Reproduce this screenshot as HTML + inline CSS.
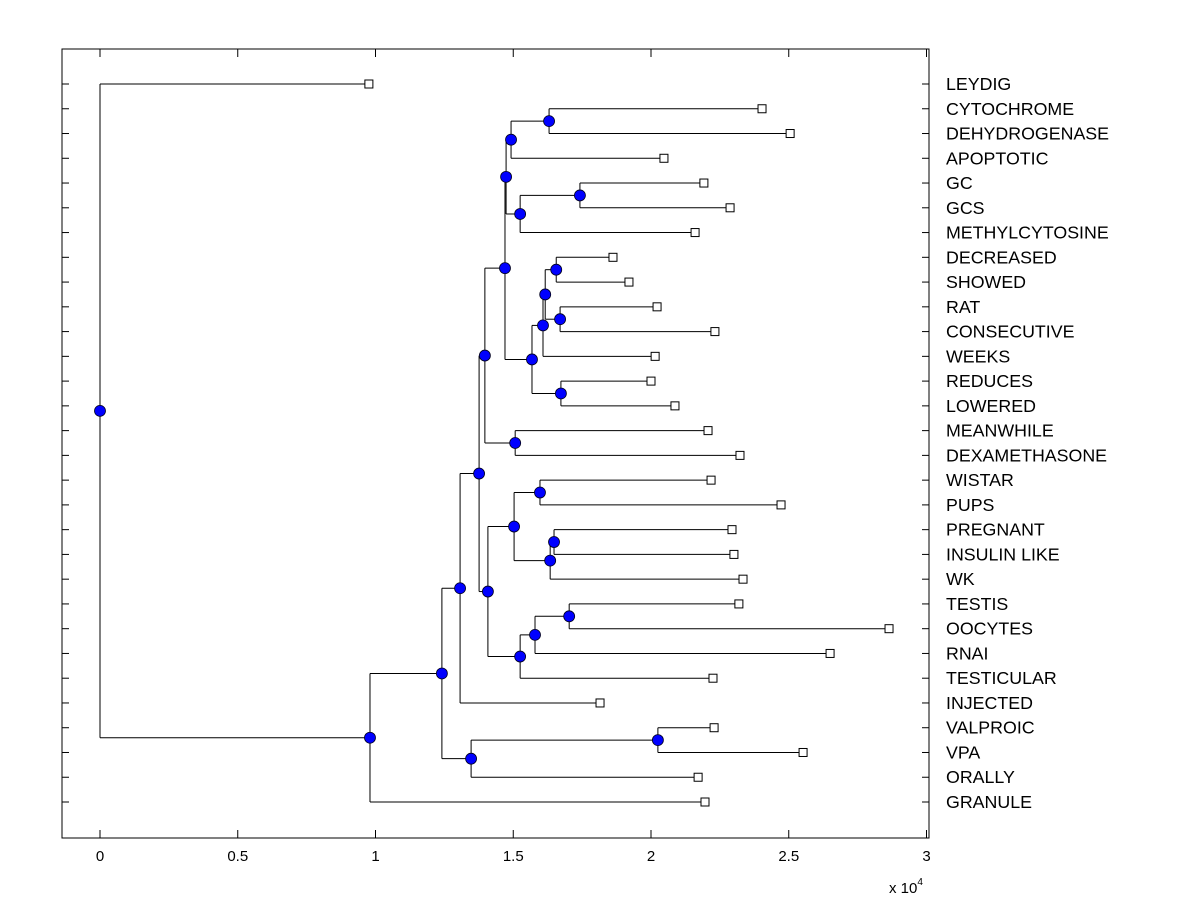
<!DOCTYPE html>
<html><head><meta charset="utf-8"><style>
html,body{margin:0;padding:0;background:#fff;}
svg{display:block;font-family:"Liberation Sans",Arial,sans-serif;}
</style></head><body>
<svg id="chart" width="1200" height="900" xmlns="http://www.w3.org/2000/svg"></svg>
<script>
// Leaf labels (top to bottom) and leaf heights (x 10^4)
const leafNames = ["LEYDIG","CYTOCHROME","DEHYDROGENASE","APOPTOTIC","GC","GCS","METHYLCYTOSINE","DECREASED","SHOWED","RAT","CONSECUTIVE","WEEKS","REDUCES","LOWERED","MEANWHILE","DEXAMETHASONE","WISTAR","PUPS","PREGNANT","INSULIN LIKE","WK","TESTIS","OOCYTES","RNAI","TESTICULAR","INJECTED","VALPROIC","VPA","ORALLY","GRANULE"];
const leafValues = [0.976,2.403,2.505,2.047,2.192,2.287,2.160,1.862,1.920,2.022,2.232,2.015,2.000,2.087,2.207,2.323,2.218,2.472,2.294,2.301,2.334,2.319,2.864,2.650,2.225,1.815,2.229,2.552,2.171,2.196];
// Merges: children (leaf index, or "n"+merge index) and merge height (x 10^4)
const mergeLeft  = [1,"n0",4,"n2","n1",7,9,"n5","n7",12,"n8","n4",14,"n11",16,18,"n15","n14",21,"n18","n19","n17","n13","n22",26,"n24","n23","n26",0];
const mergeRight = [2,3,5,6,"n3",8,10,"n6",11,13,"n9","n10",15,"n12",17,19,20,"n16",22,23,24,"n20","n21",25,27,28,"n25",29,"n27"];
const mergeHeights = [1.630,1.492,1.742,1.525,1.474,1.656,1.670,1.616,1.608,1.673,1.568,1.470,1.507,1.397,1.597,1.648,1.634,1.503,1.703,1.579,1.525,1.408,1.376,1.307,2.025,1.347,1.241,0.980,0.0];
const xTicks = [0,0.5,1,1.5,2,2.5,3];
</script>
<script>
const svg=document.getElementById('chart');
const NS="http://www.w3.org/2000/svg";
const X0=100, SX=275.5, Y0=84, DY=(802-84)/29;
const xs=v=>X0+v*SX, ys=i=>Y0+i*DY;
function mk(t,a,p){const e=document.createElementNS(NS,t);for(const k in a)e.setAttribute(k,a[k]);(p||svg).appendChild(e);return e;}
const box=mk('rect',{x:62,y:49,width:867,height:789,fill:'none',stroke:'#000','stroke-width':1});


xTicks.forEach(t=>{
  const x=xs(t);
  const a=mk('line',{x1:x,y1:838,x2:x,y2:830,stroke:'#000'});
  
  
  mk('line',{x1:x,y1:49,x2:x,y2:57,stroke:'#000'});
  const tx=mk('text',{x:x,y:861,'text-anchor':'middle','font-size':15});
  tx.textContent=String(t);
  
  
});
const ex=mk('text',{x:889,y:893,'font-size':15});
ex.innerHTML='x 10<tspan dy="-8" font-size="10">4</tspan>';


const pos={};
leafNames.forEach((n,i)=>{
  pos[i]={x:xs(leafValues[i]),y:ys(i)};
  mk('line',{x1:62,y1:ys(i),x2:69,y2:ys(i),stroke:'#000'});
  mk('line',{x1:922,y1:ys(i),x2:929,y2:ys(i),stroke:'#000'});
  const t=mk('text',{x:946,y:ys(i)+6,'font-size':17.8});
  t.textContent=n;
  
  
});
const lines=mk('g',{stroke:'#000','stroke-width':1,fill:'none'});


const dots=[];
mergeLeft.forEach((l,k)=>{
  const a=pos[l], b=pos[mergeRight[k]], x=xs(mergeHeights[k]);
  const y=(a.y+b.y)/2;
  pos["n"+k]={x:x,y:y};
  mk('line',{x1:x,y1:a.y,x2:x,y2:b.y},lines);
  mk('line',{x1:x,y1:a.y,x2:a.x,y2:a.y},lines);
  mk('line',{x1:x,y1:b.y,x2:b.x,y2:b.y},lines);
  dots.push([x,y]);
});
leafNames.forEach((n,i)=>{
  const r=mk('rect',{x:pos[i].x-4,y:pos[i].y-4,width:8,height:8,fill:'#fff',stroke:'#000'});
  
  
});
dots.forEach(d=>{
  const c=mk('circle',{cx:d[0],cy:d[1],r:5.5,fill:'#0000ff',stroke:'#000020','stroke-width':0.8});
  
  
});
</script>
</body></html>
